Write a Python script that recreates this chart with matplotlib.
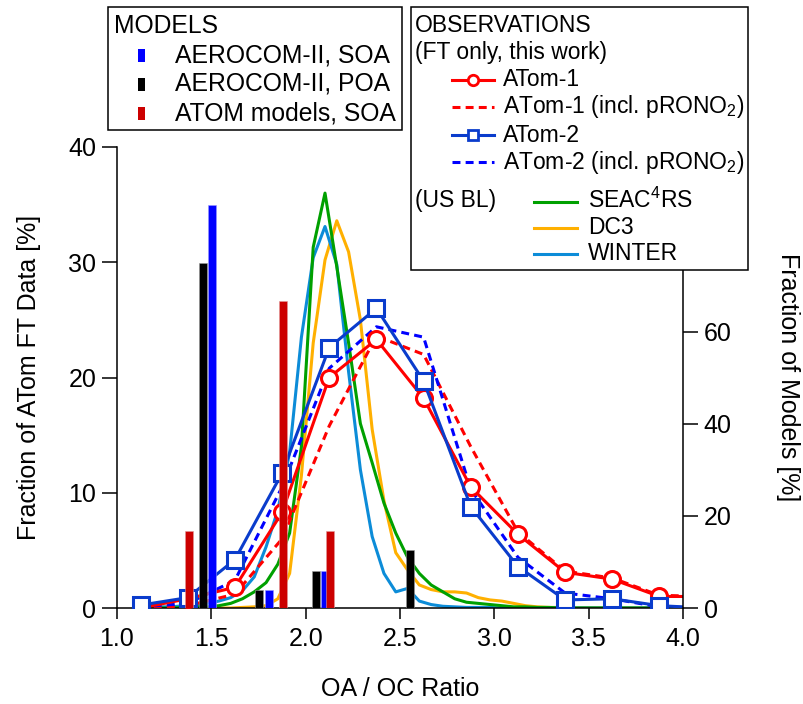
import matplotlib
matplotlib.use("Agg")
import matplotlib.pyplot as plt
from matplotlib.patches import Rectangle
from matplotlib.lines import Line2D

plt.rcParams['font.family'] = ['Liberation Sans', 'DejaVu Sans']
plt.rcParams['mathtext.fontset'] = 'custom'
plt.rcParams['mathtext.rm'] = 'Liberation Sans'
plt.rcParams['mathtext.it'] = 'Liberation Sans:italic'

# ---------------- data ----------------
x_atom = [1.125, 1.375, 1.625, 1.875, 2.125, 2.375, 2.625, 2.875, 3.125, 3.375, 3.625, 3.875, 4.125]
atom1 = [0.0, 0.8, 1.8, 8.3, 20.0, 23.3, 18.2, 10.5, 6.4, 3.1, 2.5, 1.0, 1.0]
atom1_pron = [0.0, 0.2, 1.2, 6.0, 15.8, 23.6, 22.0, 14.0, 6.6, 3.2, 2.6, 1.1, 1.0]
atom2 = [0.25, 0.9, 4.2, 11.7, 22.6, 26.0, 19.7, 8.8, 3.6, 0.7, 0.8, 0.2, 0.0]
atom2_pron = [0.1, 0.4, 2.4, 10.5, 20.8, 24.4, 23.5, 10.3, 4.4, 1.3, 0.8, 0.1, 0.0]

x_bl = [1.1025, 1.165, 1.2275, 1.29, 1.3525, 1.415, 1.4775, 1.54, 1.6025, 1.665,
        1.7275, 1.79, 1.8525, 1.915, 1.9775, 2.04, 2.1025, 2.165, 2.2275, 2.29,
        2.3525, 2.415, 2.4775, 2.54, 2.6025, 2.665, 2.7275, 2.79, 2.8525, 2.915,
        2.9775, 3.04, 3.1025, 3.165, 3.2275, 3.29, 3.3525, 3.415, 3.4775, 3.54,
        3.6025, 3.665, 3.7275, 3.79, 3.8525, 3.915, 3.9775]
seac4rs = [0.0, 0.0, 0.0, 0.0, 0.05, 0.1, 0.1, 0.2, 0.4, 0.8,
           1.4, 2.2, 3.8, 6.5, 14.0, 31.3, 36.0, 29.6, 23.0, 16.0,
           12.6, 9.1, 6.5, 4.4, 3.0, 2.0, 1.4, 0.8, 0.5, 0.4,
           0.3, 0.2, 0.1, 0.1, 0.05, 0.05, 0.0, 0.0, 0.0, 0.0,
           0.0, 0.0, 0.0, 0.0, 0.0, 0.0, 0.0]
dc3 = [0.0, 0.0, 0.0, 0.0, 0.0, 0.0, 0.0, 0.0, 0.0, 0.05,
       0.1, 0.2, 0.8, 3.0, 11.5, 23.0, 30.2, 33.6, 30.9, 25.0,
       15.5, 9.3, 4.8, 3.3, 2.0, 1.6, 1.4, 1.4, 1.3, 0.9,
       0.7, 0.6, 0.4, 0.2, 0.1, 0.05, 0.05, 0.0, 0.0, 0.0,
       0.0, 0.0, 0.0, 0.0, 0.0, 0.0, 0.0]
winter = [0.0, 0.05, 0.1, 0.1, 0.2, 0.3, 0.4, 0.6, 0.9, 1.5,
          2.7, 5.3, 8.5, 13.5, 23.5, 30.4, 33.1, 29.8, 20.5, 12.0,
          6.2, 3.0, 1.4, 1.7, 0.6, 0.3, 0.15, 0.1, 0.05, 0.05,
          0.05, 0.0, 0.0, 0.0, 0.0, 0.0, 0.0, 0.0, 0.0, 0.0,
          0.0, 0.0, 0.0, 0.0, 0.0, 0.0, 0.0]

# model bars (fraction of models, %)
aero_poa_x = [1.455, 1.755, 2.055, 2.555]
aero_poa = [75.0, 4.0, 8.0, 12.5]
aero_soa_x = [1.505, 1.805, 2.103]
aero_soa = [87.5, 4.0, 8.0]
atom_soa_x = [1.38, 1.88, 2.13]
atom_soa = [16.7, 66.7, 16.7]

x_ticks = [1.0, 1.5, 2.0, 2.5, 3.0, 3.5, 4.0]
y_ticks = [0, 10, 20, 30, 40]
y2_ticks = [0, 20, 40, 60]

# ---------------- colours ----------------
C_RED = '#FF0000'
C_BLUE = '#0A3CCC'
C_BLUED = '#0000FF'
C_GREEN = '#00A000'
C_ORANGE = '#FFB000'
C_WINTER = '#0C8CD8'
C_BAR_BLUE = '#0000FF'
C_BAR_BLACK = '#000000'
C_BAR_RED = '#CC0000'

W, H = 804, 704
fig = plt.figure(figsize=(W / 100, H / 100), dpi=100)
FS = 18


def fx(px):
    return px / W


def fy(py):
    return 1 - py / H


ax = fig.add_axes([fx(117), fy(608), (683 - 117) / W, (608 - 147) / H])
ax.set_xlim(1.0, 4.0)
ax.set_ylim(0, 40)

lw = 2.2
dash = (0, (2.6, 1.7))
ax.plot(x_bl, dc3, color=C_ORANGE, lw=lw, zorder=2)
ax.plot(x_bl, winter, color=C_WINTER, lw=lw, zorder=2)
ax.plot(x_bl, seac4rs, color=C_GREEN, lw=lw, zorder=2)
ax.plot(x_atom, atom1_pron, color=C_RED, lw=lw, ls=dash, zorder=3)
ax.plot(x_atom, atom2_pron, color=C_BLUED, lw=lw, ls=dash, zorder=3)
ax.plot(x_atom, atom1, color=C_RED, lw=lw, marker='o', ms=11.5, mfc='white',
        mec=C_RED, mew=2.2, zorder=4)
ax.plot(x_atom, atom2, color=C_BLUE, lw=lw, marker='s', ms=11.5, mfc='white',
        mec=C_BLUE, mew=2.2, zorder=4)

ax.set_xticks(x_ticks)
ax.set_xticklabels([f"{v:.1f}" for v in x_ticks])
ax.set_yticks(y_ticks)
ax.tick_params(axis='x', direction='out', length=8, width=1.1, labelsize=FS, pad=6)
ax.tick_params(axis='y', direction='out', length=11, width=1.1, labelsize=FS, pad=4)
for s in ['top', 'right']:
    ax.spines[s].set_visible(False)
for s in ['left', 'bottom']:
    ax.spines[s].set_linewidth(1.1)

ax.set_xlabel('OA / OC Ratio', fontsize=FS)
ax.xaxis.set_label_coords(0.5, (608 - 677) / 461)
ax.set_ylabel('Fraction of ATom FT Data [%]', fontsize=FS)
ax.yaxis.set_label_coords((41 - 117) / 566, 0.5)

ax2 = ax.twinx()
ax2.set_ylim(0, 100.2)
bw = 0.042
ax2.bar(aero_poa_x, aero_poa, width=bw, color=C_BAR_BLACK, edgecolor='#999999', linewidth=0.4)
ax2.bar(aero_soa_x, aero_soa, width=bw, color=C_BAR_BLUE, edgecolor='#9999ff', linewidth=0.4)
ax2.bar(atom_soa_x, atom_soa, width=bw, color=C_BAR_RED, edgecolor='#e09999', linewidth=0.4)
ax2.set_yticks(y2_ticks)
ax2.tick_params(axis='y', direction='out', length=11, width=1.1, labelsize=FS, pad=4)
for s in ['top', 'left', 'bottom']:
    ax2.spines[s].set_visible(False)
ax2.spines['right'].set_linewidth(1.1)
ax2.set_ylabel('Fraction of Models [%]', fontsize=FS, rotation=-90)
ax2.yaxis.set_label_coords((800 - 117) / 566, 0.5)
ax2.set_xlim(1.0, 4.0)

# ---------------- legends (drawn manually) ----------------
LFS = 16.5
MFS = 17.8
Z = 10


def box(x0, y0, x1, y1):
    fig.patches.append(Rectangle((fx(x0), fy(y1)), fx(x1) - fx(x0), fy(y0) - fy(y1),
                                 transform=fig.transFigure, facecolor='white',
                                 edgecolor='black', linewidth=1.1, zorder=Z))


def txt(x, y, s, size=LFS):
    fig.text(fx(x), fy(y), s, fontsize=size, va='center', ha='left', zorder=Z + 2)


# MODELS box
box(108, 7, 402, 130)
txt(114, 26, 'MODELS', MFS)
for yy, col, lab in [(55, C_BAR_BLUE, 'AEROCOM-II, SOA'),
                     (84, C_BAR_BLACK, 'AEROCOM-II, POA'),
                     (113, C_BAR_RED, 'ATOM models, SOA')]:
    fig.patches.append(Rectangle((fx(138), fy(yy + 7)), 7 / W, 13 / H,
                                 transform=fig.transFigure, facecolor=col,
                                 edgecolor='none', zorder=Z + 1))
    txt(175, yy, lab, MFS)

# OBSERVATIONS box
box(411, 7, 748, 270)
txt(415, 25, 'OBSERVATIONS')
txt(415, 52, '(FT only, this work)')


def hline(x0, x1, y, **kw):
    fig.lines.append(Line2D([fx(x0), fx(x1)], [fy(y), fy(y)], transform=fig.transFigure,
                            zorder=Z + 1, **kw))


hline(452, 494, 80, color=C_RED, lw=lw)
fig.lines.append(Line2D([fx(473)], [fy(80)], transform=fig.transFigure, marker='o', ms=7.5,
                        mfc='white', mec=C_RED, mew=2.0, ls='none', zorder=Z + 2))
txt(503, 80, 'ATom-1')
hline(452, 494, 107, color=C_RED, lw=lw, ls=dash)
txt(503, 107, r'ATom-1 (incl. pRONO$_\mathregular{2}$)')
hline(452, 494, 135, color=C_BLUE, lw=lw)
fig.lines.append(Line2D([fx(473)], [fy(135)], transform=fig.transFigure, marker='s', ms=7.5,
                        mfc='white', mec=C_BLUE, mew=2.0, ls='none', zorder=Z + 2))
txt(503, 135, 'ATom-2')
hline(452, 494, 162, color=C_BLUED, lw=lw, ls=dash)
txt(503, 162, r'ATom-2 (incl. pRONO$_\mathregular{2}$)')

txt(415, 201, '(US BL)')
hline(534, 577, 202, color=C_GREEN, lw=lw)
txt(588, 200, r'SEAC$^\mathregular{4}$RS')
hline(534, 577, 228, color=C_ORANGE, lw=lw)
txt(588, 227, 'DC3')
hline(534, 577, 254, color=C_WINTER, lw=lw)
txt(588, 253, 'WINTER')

fig.savefig('out.png', dpi=100)
